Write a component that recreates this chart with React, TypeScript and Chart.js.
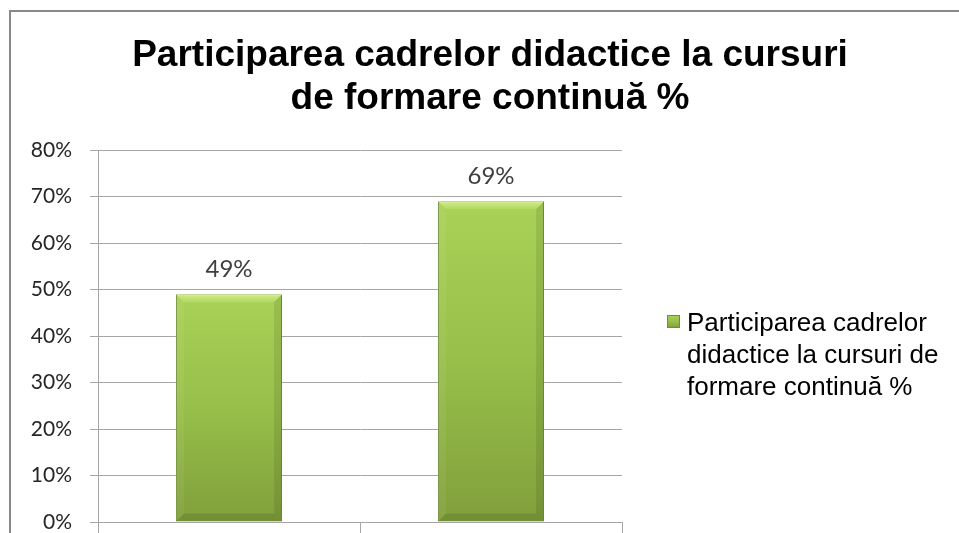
import React, { useEffect, useRef } from "react";
import { Chart, registerables } from "chart.js";

Chart.register(...registerables);

const categories = ["", ""];
const values = [49, 69];
const seriesName = "Participarea cadrelor didactice la cursuri de formare continuă %";
const titleLines = ["Participarea cadrelor didactice la cursuri", "de formare continuă %"];
const legendLines = ["Participarea cadrelor", "didactice la cursuri de", "formare continuă %"];
const yMin = 0;
const yMax = 80;
const yStep = 10;

const GRID = "#a6a6a6";

function barGradient(c: CanvasRenderingContext2D, top: number, bottom: number) {
  const g = c.createLinearGradient(0, top, 0, bottom);
  g.addColorStop(0, "#a9d257");
  g.addColorStop(0.5, "#97bf4a");
  g.addColorStop(1, "#819f3b");
  return g;
}

const decorPlugin = {
  id: "decor",
  beforeDraw(chart: any) {
    const c = chart.ctx as CanvasRenderingContext2D;
    c.save();
    c.fillStyle = "#ffffff";
    c.fillRect(0, 0, chart.width, chart.height);
    c.strokeStyle = "#898989";
    c.lineWidth = 2;
    c.strokeRect(10, 11, chart.width + 20, chart.height + 20);
    c.restore();
  },
  afterDatasetsDraw(chart: any) {
    const c = chart.ctx as CanvasRenderingContext2D;
    const meta = chart.getDatasetMeta(0);
    c.save();
    meta.data.forEach((bar: any, i: number) => {
      const L = bar.x - bar.width / 2;
      const R = bar.x + bar.width / 2;
      const T = bar.y;
      const B = bar.base;
      const b = 8;
      const poly = (pts: number[][], fill: any) => {
        c.beginPath();
        c.moveTo(pts[0][0], pts[0][1]);
        for (let k = 1; k < pts.length; k++) c.lineTo(pts[k][0], pts[k][1]);
        c.closePath();
        c.fillStyle = fill;
        c.fill();
      };
      const tg = c.createLinearGradient(0, T, 0, T + b);
      tg.addColorStop(0, "rgba(235,255,170,0.6)");
      tg.addColorStop(1, "rgba(235,255,170,0.15)");
      poly([[L, T], [R, T], [R - b, T + b], [L + b, T + b]], tg);
      poly([[L, T], [L + b, T + b], [L + b, B - b], [L, B]], "rgba(255,255,255,0.06)");
      poly([[R, T], [R, B], [R - b, B - b], [R - b, T + b]], "rgba(0,0,0,0.09)");
      poly([[L, B], [R, B], [R - b, B - b], [L + b, B - b]], "rgba(0,0,0,0.10)");
      // data label
      c.font = "24px Lato";
      c.fillStyle = "#404040";
      c.textAlign = "center";
      c.textBaseline = "middle";
      c.fillText(values[i] + "%", bar.x, T - 25);
    });
    c.restore();
  },
  afterDraw(chart: any) {
    const c = chart.ctx as CanvasRenderingContext2D;
    c.save();
    // title
    c.font = "bold 37px 'Liberation Sans', Arial, sans-serif";
    c.fillStyle = "#000000";
    c.textAlign = "center";
    c.textBaseline = "alphabetic";
    c.fillText(titleLines[0], 490, 66);
    c.fillText(titleLines[1], 490, 109);
    // legend marker
    const mx = 667, my = 315, ms = 13;
    c.fillStyle = barGradient(c, my, my + ms);
    c.fillRect(mx, my, ms, ms);
    c.strokeStyle = "#6e8c30";
    c.lineWidth = 1;
    c.strokeRect(mx + 0.5, my + 0.5, ms - 1, ms - 1);
    // legend text
    c.font = "26px 'Liberation Sans', Arial, sans-serif";
    c.fillStyle = "#000000";
    c.textAlign = "left";
    legendLines.forEach((ln, k) => c.fillText(ln, 687, 331 + k * 32));
    c.restore();
  },
};

export default function App() {
  const ref = useRef<HTMLCanvasElement | null>(null);
  useEffect(() => {
    if (!ref.current) return;
    const chart = new Chart(ref.current, {
      type: "bar",
      data: {
        labels: categories,
        datasets: [
          {
            label: seriesName,
            data: values,
            backgroundColor: (ctx: any) => {
              const ch = ctx.chart;
              if (!ch.chartArea || ctx.raw == null) return "#97bf4a";
              const y = ch.scales.y;
              return barGradient(ch.ctx, y.getPixelForValue(ctx.raw), y.getPixelForValue(0));
            },
            borderColor: "#6e8c30",
            borderWidth: 1,
            barPercentage: 0.405,
            categoryPercentage: 1,
          },
        ],
      },
      options: {
        responsive: false,
        animation: false,
        layout: { padding: { top: 150, right: 337, bottom: 0, left: 0 } },
        plugins: {
          legend: { display: false },
          title: { display: false },
          tooltip: { enabled: false },
        },
        scales: {
          x: {
            type: "category",
            offset: true,
            grid: {
              display: true,
              drawOnChartArea: false,
              drawTicks: true,
              tickLength: 11,
              color: GRID,
              offset: true,
            },
            border: { color: GRID },
            ticks: { display: false },
            afterFit: (s: any) => {
              s.height = 11;
              s.paddingLeft = 0;
              s.paddingRight = 0;
            },
          },
          y: {
            min: yMin,
            max: yMax,
            ticks: {
              stepSize: yStep,
              callback: (v: any) => v + "%",
              font: { family: "Lato", size: 21 },
              color: "#262626",
              padding: 18,
            },
            grid: { color: GRID, tickLength: 8, drawTicks: true },
            border: { color: GRID },
            afterFit: (s: any) => {
              s.width = 98;
              s.paddingTop = 0;
              s.paddingBottom = 0;
            },
          },
        },
      },
      plugins: [decorPlugin],
    } as any);
    return () => chart.destroy();
  }, []);
  return (
    <div style={{ position: "fixed", left: 0, top: 0, width: 959, height: 533, background: "#fff" }}>
      <canvas ref={ref} width={959} height={533} style={{ display: "block" }} />
    </div>
  );
}
